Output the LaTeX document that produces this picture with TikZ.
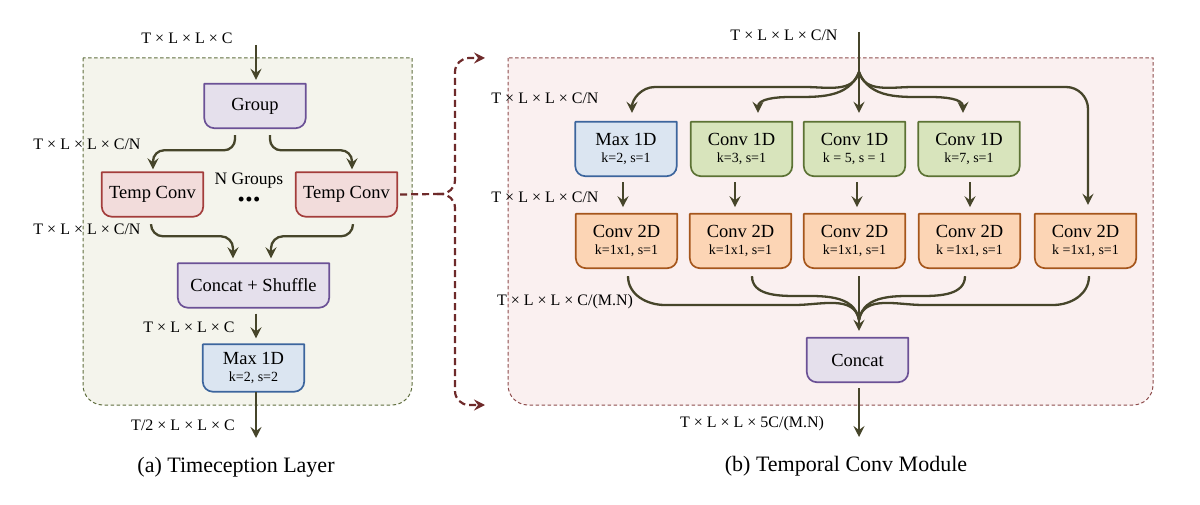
\documentclass[tikz,border=0pt]{standalone}
\usepackage{fontspec}
\setmainfont{Liberation Serif}
\usetikzlibrary{arrows.meta}
\definecolor{arrc}{HTML}{46452A}
\definecolor{lcfill}{HTML}{F4F4EC}
\definecolor{lcdraw}{HTML}{5F6E3E}
\definecolor{rcfill}{HTML}{FAF0F0}
\definecolor{rcdraw}{HTML}{8E4C4C}
\definecolor{rdc}{HTML}{6E2A2A}
\definecolor{purf}{HTML}{E5E0EC}
\definecolor{purd}{HTML}{6B5196}
\definecolor{redf}{HTML}{F2DCDB}
\definecolor{redd}{HTML}{A33D3B}
\definecolor{bluf}{HTML}{DBE5F1}
\definecolor{blud}{HTML}{3C659D}
\definecolor{grnf}{HTML}{D8E4BC}
\definecolor{grnd}{HTML}{5C7234}
\definecolor{orgf}{HTML}{FCD5B5}
\definecolor{orgd}{HTML}{A5561C}
\pgfdeclarelayer{cont}
\pgfdeclarelayer{boxes}
\pgfsetlayers{cont,boxes,main}
\tikzset{
  btxt/.style={inner sep=0pt, align=center, font=\fontsize{18.5}{17.5}\selectfont},
  purp/.style={fill=purf, draw=purd},
  redb/.style={fill=redf, draw=redd},
  blueb/.style={fill=bluf, draw=blud},
  grnb/.style={fill=grnf, draw=grnd},
  orgb/.style={fill=orgf, draw=orgd},
  lbl/.style={inner sep=0pt, font=\fontsize{16}{16}\selectfont},
  captxt/.style={inner sep=0pt, font=\fontsize{22}{22}\selectfont},
  arr/.style={draw=arrc, line width=2.3pt, -{Stealth[length=11pt,width=11pt,inset=4pt]}},
  arrl/.style={draw=arrc, line width=2.3pt},
  rdash/.style={draw=rdc, line width=2.2pt, dash pattern=on 7pt off 4pt},
  rarr/.style={rdash, -{Stealth[length=11pt,width=11pt,inset=4pt]}},
}
\newcommand\sub[1]{{\fontsize{14}{14}\selectfont #1}}
\newcommand\mkbox[7]{%
  \node[btxt, minimum width=#4pt, minimum height=#5pt] (#1) at (#2,#3) {#7};
  \begin{pgfonlayer}{boxes}
  \draw[#6, line width=1.7pt, line join=round] (#1.north west) -- ([yshift=10pt]#1.south west)
    arc[start angle=180, end angle=270, radius=10pt] -- ([xshift=-10pt]#1.south east)
    arc[start angle=270, end angle=360, radius=10pt] -- (#1.north east) -- cycle;
  \end{pgfonlayer}}
\begin{document}
\begin{tikzpicture}[x=1pt,y=1pt]
\useasboundingbox (0,0) rectangle (1200,504);
% containers
\begin{pgfonlayer}{cont}
\draw[fill=lcfill, draw=lcdraw, line width=1pt, dash pattern=on 3.5pt off 2.5pt]
  (83,446) -- (83,119) arc[start angle=180,end angle=270,radius=20pt] -- (392,99)
  arc[start angle=270,end angle=360,radius=20pt] -- (412,446) -- cycle;
\draw[fill=rcfill, draw=rcdraw, line width=1pt, dash pattern=on 3.5pt off 2.5pt]
  (508,446) -- (508,119) arc[start angle=180,end angle=270,radius=20pt] -- (1133,99)
  arc[start angle=270,end angle=360,radius=20pt] -- (1153,446) -- cycle;
\end{pgfonlayer}

% ---------- left: Timeception layer ----------
\mkbox{grp}{255}{398}{101}{44}{purp}{Group}
\mkbox{tc1}{152.5}{309.5}{101}{44}{redb}{Temp Conv}
\mkbox{tc2}{346.5}{309.5}{101}{44}{redb}{Temp Conv}
\mkbox{cs}{253.5}{218.5}{151}{44}{purp}{Concat + Shuffle}
\mkbox{mxa}{253.5}{136}{101}{47}{blueb}{Max 1D\\\sub{k=2, s=2}}

\node[lbl] (lin) at (187,466) {T × L × L × C};
\node[lbl] (lg1) at (87,360) {T × L × L × C/N};
\node[lbl] (lg2) at (87,275) {T × L × L × C/N};
\node[lbl] (ng) at (249,323) {\fontsize{17.5}{17}\selectfont N Groups};
\node[inner sep=0pt, font=\fontsize{18}{18}\selectfont\bfseries] (dots) at (249,303) {•\kern1.5pt•\kern1.5pt•};
\node[lbl] (lc) at (189,177) {T × L × L × C};
\node[lbl] (lout) at (183,79) {T/2 × L × L × C};
\node[captxt] (capa) at (236,37) {(a) Timeception Layer};

\coordinate (inA) at (256,459);
\coordinate (outA) at (256,66);
\draw[arr] (inA) -- ([xshift=1pt,yshift=4pt]grp.north);
\draw[arr, rounded corners=11pt] ([xshift=-20pt,yshift=-7pt]grp.south) |- ([xshift=0.5pt,yshift=22pt]tc1.north) -- ([xshift=0.5pt,yshift=3pt]tc1.north);
\draw[arr, rounded corners=11pt] ([xshift=15pt,yshift=-7pt]grp.south) |- ([xshift=5.5pt,yshift=22pt]tc2.north) -- ([xshift=5.5pt,yshift=3pt]tc2.north);
\draw[arr, rounded corners=12pt] ([xshift=-1.5pt,yshift=-8pt]tc1.south) |- ([xshift=-20.5pt,yshift=27pt]cs.north) -- ([xshift=-20.5pt,yshift=5pt]cs.north);
\draw[arr, rounded corners=12pt] ([xshift=6.5pt,yshift=-8pt]tc2.south) |- ([xshift=17.5pt,yshift=27pt]cs.north) -- ([xshift=17.5pt,yshift=5pt]cs.north);
\draw[arr] ([xshift=2.5pt,yshift=-6pt]cs.south) -- ([xshift=2.5pt,yshift=6pt]mxa.north);
\draw[arr] ([xshift=2.5pt]mxa.south) -- (outA);

% dashed connector
\coordinate (fk) at (437,310);
\draw[rdash] ([xshift=3pt]tc2.east) -- (fk);
\draw[rarr, rounded corners=14pt] (fk) -- (455,310) -- (455,446) -- (485,446);
\draw[rarr, rounded corners=14pt] (fk) -- (455,310) -- (455,99) -- (485,99);

% ---------- right: Temporal conv module ----------
\mkbox{r1a}{626}{355}{101}{54}{blueb}{Max 1D\\\sub{k=2, s=1}}
\mkbox{r1b}{741.5}{355}{101}{54}{grnb}{Conv 1D\\\sub{k=3, s=1}}
\mkbox{r1c}{854.5}{355}{101}{54}{grnb}{Conv 1D\\\sub{k = 5, s = 1}}
\mkbox{r1d}{969}{355}{101}{54}{grnb}{Conv 1D\\\sub{k=7, s=1}}
\mkbox{r2a}{626.5}{263}{101}{54}{orgb}{Conv 2D\\\sub{k=1x1, s=1}}
\mkbox{r2b}{740.5}{263}{101}{54}{orgb}{Conv 2D\\\sub{k=1x1, s=1}}
\mkbox{r2c}{854.5}{263}{101}{54}{orgb}{Conv 2D\\\sub{k=1x1, s=1}}
\mkbox{r2d}{969.5}{263}{101}{54}{orgb}{Conv 2D\\\sub{k =1x1, s=1}}
\mkbox{r2e}{1085.5}{263}{101}{54}{orgb}{Conv 2D\\\sub{k =1x1, s=1}}
\mkbox{cat}{857.5}{144}{101}{44}{purp}{Concat}

\node[lbl] (rin) at (784,469) {T × L × L × C/N};
\node[lbl] (rl1) at (545,406) {T × L × L × C/N};
\node[lbl] (rl2) at (545,307) {T × L × L × C/N};
\node[lbl] (rl3) at (565,202) {T × L × L × C/(M.N)};
\node[lbl] (rout) at (752,80) {T × L × L × 5C/(M.N)};
\node[captxt] (capb) at (846,38) {(b) Temporal Conv Module};

\coordinate (inB) at (859,472);
\coordinate (br) at (859,432);
\coordinate (mg) at (859,184);
\coordinate (outB) at (859,67);
\draw[arrl] (inB) -- (br);
\draw[arr] (br) to[out=-105,in=0] (805,417) -- (655,417) to[out=180,in=90] ([xshift=6pt,yshift=9pt]r1a.north);
\draw[arr] (br) to[out=-112,in=0] (790,407) to[out=180,in=90] ([xshift=16.5pt,yshift=9pt]r1b.north);
\draw[arr] (br) -- ([xshift=4.5pt,yshift=9pt]r1c.north);
\draw[arr] (br) to[out=-68,in=180] (930,407) to[out=0,in=90] ([xshift=-6pt,yshift=9pt]r1d.north);
\draw[arr] (br) to[out=-75,in=180] (913,417) -- (1066,417) to[out=0,in=90] (1088,395) -- ([xshift=2.5pt,yshift=9pt]r2e.north);

\draw[arr] ([xshift=-3pt,yshift=-6pt]r1a.south) -- ++(0,-25);
\draw[arr] ([xshift=-6.5pt,yshift=-6pt]r1b.south) -- ++(0,-25);
\draw[arr] ([xshift=2.5pt,yshift=-6pt]r1c.south) -- ++(0,-25);
\draw[arr] ([xshift=1pt,yshift=-6pt]r1d.south) -- ++(0,-25);

\draw[arrl] ([xshift=1.5pt,yshift=-8pt]r2a.south) to[out=-90,in=180] (665,199) -- (795,199) to[out=0,in=100] (mg);
\draw[arrl] ([xshift=11.5pt,yshift=-8pt]r2b.south) to[out=-90,in=180] (795,208) to[out=0,in=100] (mg);
\draw[arrl] ([xshift=-4.5pt,yshift=-8pt]r2d.south) to[out=-90,in=0] (923,208) to[out=180,in=80] (mg);
\draw[arrl] ([xshift=3.5pt,yshift=-8pt]r2e.south) to[out=-90,in=0] (1053,199) -- (923,199) to[out=180,in=80] (mg);
\draw[arr] ([xshift=4.5pt,yshift=-8pt]r2c.south) -- ([xshift=1.5pt,yshift=7pt]cat.north);
\draw[arr] ([xshift=1.5pt,yshift=-6pt]cat.south) -- (outB);
\end{tikzpicture}
\end{document}
